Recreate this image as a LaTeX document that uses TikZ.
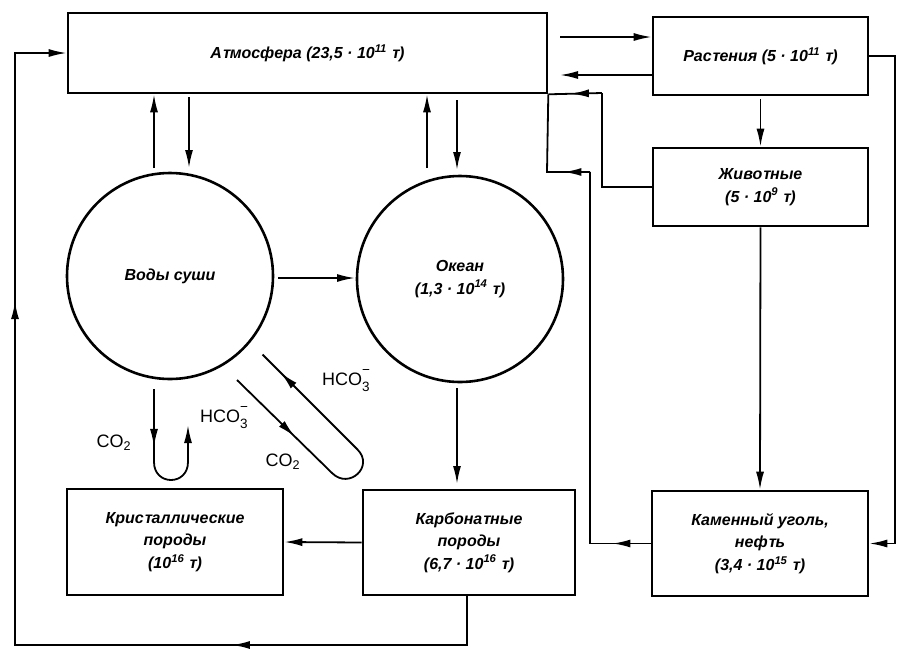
\documentclass[tikz,border=0pt]{standalone}
\usepackage{fontspec}
\setmainfont{Liberation Sans}
\newfontfamily\slf[FakeSlant=0.18]{Liberation Sans}
\usetikzlibrary{arrows.meta,decorations.markings}
\newcommand\bxfont{\fontsize{16}{22.5}\selectfont\bfseries\itshape}
\newcommand\chfont{\fontsize{18}{21}\selectfont}
\newcommand\chsmall{\fontsize{13.5}{15}\selectfont}
\newcommand\T{{\slf\bfseries\upshape т}}
\newcommand\hcoiii{HCO\rlap{\raisebox{11pt}{\chsmall −}}\raisebox{-6pt}{\chsmall 3}}
\begin{document}
\begin{tikzpicture}[x=1pt,y=-1pt,
  box/.style={draw, line width=2.6pt, inner sep=0pt, align=center, font=\bxfont},
  ball/.style={draw, circle, line width=2.6pt, inner sep=0pt, minimum size=206pt, align=center, font=\bxfont},
  arr/.style={line width=1.8pt, -{Latex[length=18pt,width=8pt]}},
  ln/.style={line width=1.8pt},
  tipat/.style={postaction={decorate, decoration={markings, mark=at position #1 with {\arrow{Latex[length=18pt,width=8pt]}}}}},
  chem/.style={font=\chfont, inner sep=1pt}
]
\fill[white] (0,0) rectangle (898,649);
\useasboundingbox (0,0) rectangle (898,649);

% boxes
\node[box, minimum width=479pt, minimum height=80pt] (atm) at (307.5,53) {А\T мосфера (23,5 · 10\textsuperscript{11} \T)};
\node[box, minimum width=215pt, minimum height=78pt] (plants) at (760.5,56) {Рас\T ения (5 · 10\textsuperscript{11} \T)};
\node[box, minimum width=215pt, minimum height=78pt] (animals) at (760.5,187) {Живо\T ные\\(5 · 10\textsuperscript{9} \T)};
\node[box, minimum width=216pt, minimum height=105pt] (coal) at (760,543.5) {Каменный уголь,\\неф\T ь\\(3,4 · 10\textsuperscript{15} \T)};
\node[box, minimum width=212pt, minimum height=105pt] (carb) at (469,542.5) {Карбона\T ные\\породы\\(6,7 · 10\textsuperscript{16} \T)};
\node[box, minimum width=216pt, minimum height=106pt] (cryst) at (175,542) {Крис\T аллические\\породы\\(10\textsuperscript{16} \T)};

% circles
\node[ball] (land) at (170,276) {\raisebox{3pt}{Воды суши}};
\node[ball] (ocean) at (460,279) {Океан\\(1,3 · 10\textsuperscript{14} \T)};

% atmosphere <-> plants
\draw[arr] (560,37) -- (plants.west |- 0,37);
\draw[arr] (plants.west |- 0,75) -- (560,75);
% plants -> animals -> coal
\draw[arr] ([yshift=-3pt]plants.south) -- (animals.north);
\draw[arr] (animals.south) -- (coal.north);
% animals -> atmosphere
\draw[ln] (animals.west) -| (602,93);
\draw[ln, tipat=0.58] (602,93) -- (atm.south east);
% coal -> atmosphere
\draw[ln, tipat=0.63] (coal.west) -- (590,543.5);
\draw[ln] (590,543.5) -- (590,172);
\draw[ln, tipat=0.22] (590,172) -- (547,172) -- (atm.south east);
% plants -> coal (right side)
\draw[arr] (plants.east) -- (895,56) -- (895,543.5) -- (coal.east);

% atmosphere <-> land waters
\draw[arr] (154,168) -- (154,168 |- atm.south);
\draw[arr] (189,97) -- (189,168);
% atmosphere <-> ocean
\draw[arr] (427,168) -- (427,168 |- atm.south);
\draw[arr] (457,100) -- (457,170);
% land -> ocean
\draw[arr] (278,278) -- (355,278);
% ocean -> carbonates
\draw[arr] (457,388) -- (457,484);
% carbonates -> crystalline
\draw[arr] (carb.west) -- (cryst.east);
% carbonates -> atmosphere (outer loop)
\draw[arr, tipat=0.248, tipat=0.738] (467,0 |- carb.south) -- (467,645) -- (15,645) -- (15,53) -- (atm.west);

% loop below land waters
\draw[arr, tipat=0.35] (154,389) -- (154,462) .. controls (154,486) and (188,486) .. (188,462) -- (188,425);
\node[chem] (co2a) at (114,443) {CO\textsubscript{2}};
\node[chem] (hco3a) at (224,418) {\hcoiii};

% tube
\draw[ln, tipat=0.25, tipat=0.92] (237,380) -- (332,473) .. controls (349,490) and (374.5,466.5) .. (357.5,449.5) -- (262.5,354.5);
\node[chem] (hco3b) at (346,381) {\hcoiii};
\node[chem] (co2b) at (283,462) {CO\textsubscript{2}};
\end{tikzpicture}
\end{document}
